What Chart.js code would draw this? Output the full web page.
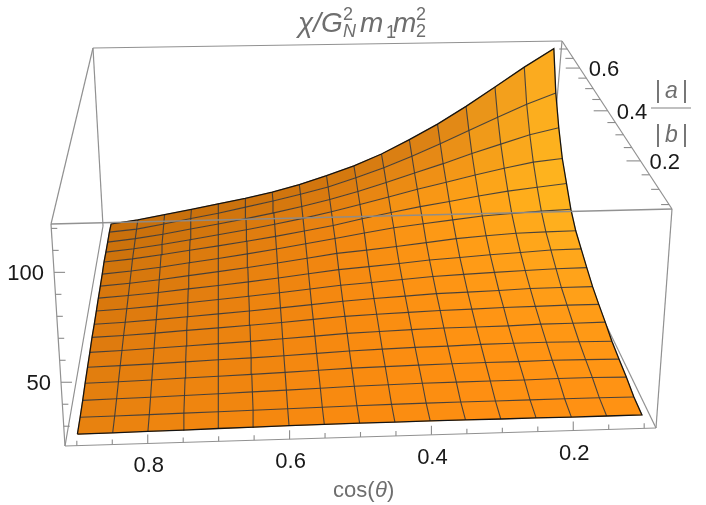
<!DOCTYPE html>
<html>
<head>
<meta charset="utf-8">
<style>
  html, body { margin: 0; padding: 0; background: #fff; }
  canvas { display: block; }
</style>
<script src="https://cdn.jsdelivr.net/npm/chart.js@4/dist/chart.umd.js"></script>
</head>
<body>
<canvas id="surface" width="706" height="505"></canvas>
<script>
// grid of the surface
const cosTheta = [0.9, 0.85, 0.8, 0.75, 0.7, 0.65, 0.6, 0.55, 0.5, 0.45, 0.4, 0.35, 0.3, 0.25, 0.2, 0.15, 0.1];
const abRatio = [0.05, 0.0925, 0.135, 0.1775, 0.22, 0.2625, 0.305, 0.3475, 0.39, 0.4325, 0.475, 0.5175, 0.56, 0.6025, 0.645, 0.6875, 0.73];

// chi values, one row per abRatio entry, one value per cosTheta entry
const chi00 = [23.6, 23.7, 23.9, 24.0, 24.2, 24.3, 24.5, 24.6, 24.7, 24.7, 24.7, 24.7, 24.6, 24.6, 24.5, 24.5, 24.5];
const chi01 = [23.6, 23.7, 23.8, 24.0, 24.1, 24.3, 24.5, 24.7, 24.9, 25.0, 25.1, 25.1, 25.1, 25.1, 25.1, 25.1, 24.9];
const chi02 = [23.9, 24.1, 24.3, 24.6, 24.9, 25.3, 25.6, 26.0, 26.4, 26.6, 26.8, 26.8, 26.8, 26.8, 27.0, 26.9, 26.6];
const chi03 = [24.6, 24.8, 25.1, 25.5, 25.8, 26.2, 26.6, 27.1, 27.6, 27.8, 28.0, 28.1, 28.2, 28.1, 28.2, 28.0, 27.7];
const chi04 = [25.0, 25.3, 25.6, 26.0, 26.5, 26.9, 27.4, 28.0, 28.6, 29.0, 29.3, 29.4, 29.7, 29.7, 29.7, 29.4, 29.1];
const chi05 = [25.2, 25.6, 26.1, 26.7, 27.3, 27.9, 28.6, 29.4, 30.2, 30.6, 31.0, 31.2, 31.2, 31.2, 31.5, 31.4, 31.4];
const chi06 = [25.7, 26.1, 26.7, 27.5, 28.2, 29.0, 29.8, 30.8, 31.8, 32.3, 32.7, 33.1, 33.2, 33.5, 33.5, 33.6, 33.4];
const chi07 = [25.5, 26.0, 26.7, 27.6, 28.5, 29.4, 30.4, 31.5, 32.7, 33.5, 34.2, 34.9, 35.1, 35.4, 35.9, 35.8, 35.7];
const chi08 = [25.6, 26.2, 27.1, 28.1, 29.2, 30.3, 31.5, 32.9, 34.3, 35.2, 36.2, 37.2, 37.7, 38.2, 38.6, 39.0, 39.0];
const chi09 = [25.8, 26.5, 27.5, 28.8, 30.0, 31.3, 32.7, 34.4, 36.0, 37.0, 38.1, 39.4, 40.2, 41.1, 41.7, 42.5, 42.5];
const chi10 = [25.7, 26.6, 27.8, 29.4, 30.9, 32.5, 34.3, 36.3, 38.3, 39.5, 40.9, 42.4, 44.0, 45.0, 45.8, 46.0, 46.0];
const chi11 = [25.8, 26.8, 28.2, 30.0, 31.7, 33.6, 35.6, 37.9, 40.2, 42.6, 44.9, 46.5, 48.1, 49.7, 50.5, 51.3, 51.8];
const chi12 = [26.2, 27.2, 28.8, 30.6, 32.4, 34.3, 36.4, 38.8, 41.2, 44.4, 47.3, 50.0, 52.3, 54.9, 57.1, 58.8, 60.4];
const chi13 = [25.5, 26.7, 28.4, 30.4, 32.5, 34.7, 37.1, 39.8, 42.9, 46.4, 50.1, 53.9, 57.4, 61.0, 64.4, 67.4, 69.0];
const chi14 = [25.1, 26.4, 28.2, 30.4, 32.6, 35.0, 37.6, 40.6, 44.0, 48.0, 52.6, 57.5, 62.4, 67.8, 72.8, 77.8, 81.5];
const chi15 = [24.9, 25.9, 28.1, 30.6, 32.9, 35.7, 38.6, 41.8, 45.4, 50.2, 55.5, 61.7, 68.5, 75.9, 83.3, 90.6, 97.0];
const chi16 = [23.8, 25.4, 27.7, 30.0, 32.6, 35.0, 38.0, 41.8, 46.4, 51.6, 58.0, 66.0, 74.8, 85.0, 96.3, 108.0, 119.0];
const chiRows = [chi00, chi01, chi02, chi03, chi04, chi05, chi06, chi07, chi08, chi09, chi10, chi11, chi12, chi13, chi14, chi15, chi16];

// axis ticks
const cosMajor = [0.8, 0.6, 0.4, 0.2];
const cosMinor = [0.9, 0.85, 0.75, 0.7, 0.65, 0.55, 0.5, 0.45, 0.35, 0.3, 0.25, 0.15, 0.1];
const abMajor = [0.6, 0.4, 0.2];
const abMinor = [0.7, 0.65, 0.55, 0.5, 0.45, 0.35, 0.3, 0.25, 0.15, 0.1, 0.05];
const chiMajor = [100, 50];
const chiMinor = [120, 110, 90, 80, 70, 60, 40, 30];

// box range on each axis
const chiMin = 21, chiMax = 122;

// corners of the plot box on screen: front-left, front-right, back-right, back-left
const floorCorners = [[65, 446], [656, 428], [548, 205], [103, 226]];
const roofCorners = [[51, 224], [672, 209], [562, 41], [93, 48]];
const depthSquash = 0.33;

// colour of the surface, front row first, left to right
const shadeStops = [
  ['#E8820F', '#F3870F', '#FA8B10', '#FE8F12', '#FF9113'],
  ['#E07C0E', '#EC830F', '#F88A10', '#FF9212', '#FF9815'],
  ['#D9780D', '#E6800F', '#F68910', '#FF9815', '#FFA71B'],
  ['#CE730C', '#DC7B0E', '#EE8510', '#FF9E16', '#FFB81F'],
  ['#C56E0C', '#C8700C', '#CF750E', '#D98015', '#FFB020']
];

// even along u, foreshortened along v
function quadMap(q) {
  const [fl, fr, br, bl] = q;
  const k = 1 + depthSquash;
  return function(u, v) {
    const d = 1 + depthSquash * v;
    return [0, 1].map(n => {
      const front = fl[n] + (fr[n] - fl[n]) * u;
      const back = bl[n] + (br[n] - bl[n]) * u;
      return (front + (back * k - front) * v) / d;
    });
  };
}
const floorMap = quadMap(floorCorners);
const roofMap = quadMap(roofCorners);

// box coordinates (0..1 on each side) to chart coordinates
function boxPoint(u, v, w) {
  const a = floorMap(u, v), b = roofMap(u, v);
  return { x: a[0] + (b[0] - a[0]) * w, y: a[1] + (b[1] - a[1]) * w };
}
const cosToU = c => 0.02 + 0.96 * (0.9 - c) / 0.8;
const abToV = r => 0.02 + 0.96 * (r - 0.05) / 0.68;
const chiToW = z => (z - chiMin) / (chiMax - chiMin);
const surfacePoint = (i, j) => boxPoint(cosToU(cosTheta[i]), abToV(abRatio[j]), chiToW(chiRows[j][i]));

function shadeAt(s, t) {
  const n = shadeStops.length - 1;
  const r = Math.min(Math.floor(t * n), n - 1), c = Math.min(Math.floor(s * n), n - 1);
  const fr = t * n - r, fc = s * n - c;
  const rgb = h => [1, 3, 5].map(k => parseInt(h.substr(k, 2), 16));
  const a = rgb(shadeStops[r][c]), b = rgb(shadeStops[r][c + 1]);
  const d = rgb(shadeStops[r + 1][c]), e = rgb(shadeStops[r + 1][c + 1]);
  const mix = [0, 1, 2].map(k => Math.round((a[k] * (1 - fc) + b[k] * fc) * (1 - fr) + (d[k] * (1 - fc) + e[k] * fc) * fr));
  return `rgb(${mix[0]},${mix[1]},${mix[2]})`;
}

const datasets = [];

function addLine(points, color, width, order) {
  datasets.push({ data: points, showLine: true, borderColor: color, borderWidth: width, pointRadius: 0, fill: false, tension: 0, order: order });
}

// box edges behind the surface
const boxGrey = 'rgb(145,145,145)';
[[[0, 1, 1], [1, 1, 1]], [[0, 1, 1], [0, 1, 0]], [[1, 1, 1], [1, 1, 0]],
 [[0, 0, 1], [0, 1, 1]], [[1, 0, 1], [1, 1, 1]],
 [[0, 0, 0], [0, 1, 0]], [[1, 0, 0], [1, 1, 0]],
 [[0, 0, 0], [1, 0, 0]], [[0, 0, 0], [0, 0, 1]], [[1, 0, 0], [1, 0, 1]]].forEach(e => {
  addLine(e.map(p => boxPoint(p[0], p[1], p[2])), boxGrey, 1.2, 40);
});

// tick marks
const tickGrey = 'rgb(140,140,140)';
function addTick(base, dx, dy) {
  addLine([base, { x: base.x + dx, y: base.y + dy }], tickGrey, 1.1, 39);
}
cosMajor.forEach(c => addTick(boxPoint(cosToU(c), 0, 0), 0, -9));
cosMinor.forEach(c => addTick(boxPoint(cosToU(c), 0, 0), 0, -5));
abMajor.forEach(r => addTick(boxPoint(1, abToV(r), 1), -14, 0));
abMinor.forEach(r => addTick(boxPoint(1, abToV(r), 1), -8, 0));
chiMajor.forEach(z => addTick(boxPoint(0, 0, chiToW(z)), 11, 0));
chiMinor.forEach(z => addTick(boxPoint(0, 0, chiToW(z)), 6, 0));

// surface cells
for (let j = 0; j < abRatio.length - 1; j++) {
  for (let i = 0; i < cosTheta.length - 1; i++) {
    const col = shadeAt((i + 0.5) / 16, (j + 0.5) / 16);
    datasets.push({
      data: [surfacePoint(i, j), surfacePoint(i + 1, j), surfacePoint(i + 1, j + 1), surfacePoint(i, j + 1), surfacePoint(i, j)],
      showLine: true, borderColor: col, backgroundColor: col, borderWidth: 0.8,
      pointRadius: 0, fill: 'shape', tension: 0, order: 30
    });
  }
}

// mesh lines
const meshColor = 'rgba(55,58,62,0.9)';
abRatio.forEach((r, j) => {
  if (j === 0 || j === abRatio.length - 1) return;
  addLine(cosTheta.map((c, i) => surfacePoint(i, j)), meshColor, 1.1, 20);
});
cosTheta.forEach((c, i) => {
  if (i === 0 || i === cosTheta.length - 1) return;
  addLine(abRatio.map((r, j) => surfacePoint(i, j)), meshColor, 1.1, 20);
});

// surface outline
const rim = [];
cosTheta.forEach((c, i) => rim.push(surfacePoint(i, 0)));
abRatio.forEach((r, j) => rim.push(surfacePoint(16, j)));
cosTheta.forEach((c, i) => rim.push(surfacePoint(16 - i, 16)));
abRatio.forEach((r, j) => rim.push(surfacePoint(0, 16 - j)));
addLine(rim, 'rgb(20,20,20)', 1.3, 10);

// top front edge runs over the surface
addLine([boxPoint(0, 0, 1), boxPoint(1, 0, 1)], 'rgba(140,140,140,0.95)', 1.3, 1);

const labelBlack = 'rgb(25,25,25)', labelGrey = 'rgb(110,110,110)';
const axisFont = '"Liberation Sans", Arial, sans-serif';

const textLabels = {
  id: 'textLabels',
  afterDraw(chart) {
    const ctx = chart.ctx, sx = chart.scales.x, sy = chart.scales.y;
    const put = (txt, px, py, size, color, style, align) => {
      ctx.font = `${style || ''} ${size}px ${axisFont}`;
      ctx.fillStyle = color;
      ctx.textAlign = align || 'left';
      ctx.textBaseline = 'alphabetic';
      ctx.fillText(txt, px, py);
    };
    const at = p => [sx.getPixelForValue(p.x), sy.getPixelForValue(p.y)];

    cosMajor.forEach(c => {
      const p = at(boxPoint(cosToU(c), 0, 0));
      put(c.toFixed(1), p[0] + 1, p[1] + 29, 22, labelBlack, '', 'center');
    });
    abMajor.forEach(r => {
      const p = at(boxPoint(1, abToV(r), 1));
      put(r.toFixed(1), p[0] + 9, p[1] + 8, 22, labelBlack, '', 'left');
    });
    chiMajor.forEach(z => {
      const p = at(boxPoint(0, 0, chiToW(z)));
      put(String(z), p[0] - 10, p[1] + 8, 22, labelBlack, '', 'right');
    });

    // title
    put('\u03C7/G', 298, 32, 28, labelGrey, 'italic');
    put('2', 343, 20, 18, labelGrey);
    put('N', 343, 37, 18, labelGrey, 'italic');
    put('m', 360, 32, 28, labelGrey, 'italic');
    put('1', 386, 38, 18, labelGrey);
    put('m', 393, 32, 28, labelGrey, 'italic');
    put('2', 416, 20, 18, labelGrey);
    put('2', 416, 37, 18, labelGrey);

    // bottom axis label
    put('cos(', 333, 497, 22, labelGrey);
    put('\u03B8', 375, 497, 22, labelGrey, 'italic');
    put(')', 387, 497, 22, labelGrey);

    // right axis label, written as a fraction
    put('|', 655, 98, 23, labelGrey);
    put('a', 665, 98, 23, labelGrey, 'italic');
    put('|', 682, 98, 23, labelGrey);
    put('|', 655, 142, 23, labelGrey);
    put('b', 665, 142, 23, labelGrey, 'italic');
    put('|', 682, 142, 23, labelGrey);
    const ly = sy.getPixelForValue(108);
    ctx.strokeStyle = 'rgb(130,130,130)';
    ctx.lineWidth = 1.2;
    ctx.beginPath();
    ctx.moveTo(sx.getPixelForValue(651), ly);
    ctx.lineTo(sx.getPixelForValue(691), ly);
    ctx.stroke();
  }
};

new Chart(document.getElementById('surface'), {
  type: 'scatter',
  data: { datasets: datasets },
  options: {
    responsive: false,
    animation: false,
    layout: { padding: 0 },
    clip: false,
    plugins: { legend: { display: false }, tooltip: { enabled: false }, title: { display: false } },
    scales: {
      x: { type: 'linear', min: 0, max: 706, display: false },
      y: { type: 'linear', min: 0, max: 505, reverse: true, display: false }
    }
  },
  plugins: [textLabels]
});
</script>
</body>
</html>
